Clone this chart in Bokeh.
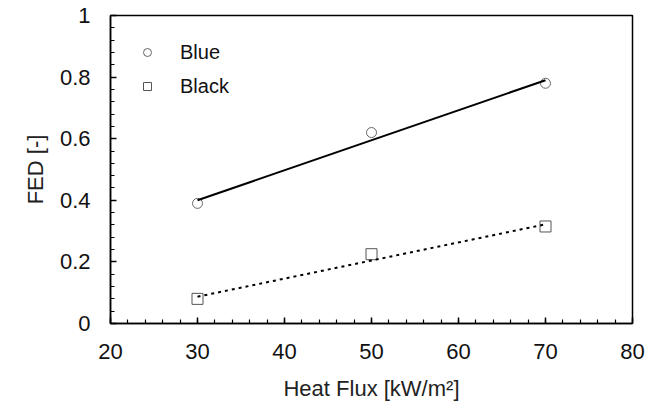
from bokeh.plotting import figure
from bokeh.embed import file_html
from bokeh.resources import INLINE
from bokeh.models import (ColumnDataSource, Legend, LegendItem, Range1d,
                          SingleIntervalTicker, CustomJSTickFormatter)

# ---- data ----
heat_flux = [30, 50, 70]
fed_blue = [0.39, 0.62, 0.78]
fed_black = [0.08, 0.225, 0.315]

trend_x = [30, 70]
trend_blue = [0.40, 0.79]
trend_black = [0.087, 0.322]

x_label = "Heat Flux [kW/m²]"
y_label = "FED [-]"
series_names = ["Blue", "Black"]

FONT = "Liberation Sans"

p = figure(frame_width=522, frame_height=308,
           min_border_left=110, min_border_right=32,
           min_border_top=15, min_border_bottom=79,
           x_range=Range1d(20, 80), y_range=Range1d(0, 1),
           output_backend="svg", toolbar_location=None, title=None)

p.xgrid.visible = False
p.ygrid.visible = False
p.outline_line_color = "#000000"
p.outline_line_width = 1.5
p.background_fill_color = "white"
p.border_fill_color = "white"

src_blue = ColumnDataSource(dict(x=heat_flux, y=fed_blue))
src_black = ColumnDataSource(dict(x=heat_flux, y=fed_black))

r_blue = p.scatter("x", "y", source=src_blue, marker="circle", size=10,
                   fill_color=None, line_color="#666666", line_width=1)
r_black = p.scatter("x", "y", source=src_black, marker="square", size=11,
                    fill_color=None, line_color="#555555", line_width=1)

p.line(trend_x, trend_blue, line_color="#000000", line_width=2)
p.line(trend_x, trend_black, line_color="#000000", line_width=2,
       line_dash="3 4")

# axes
for ax in (p.xaxis[0], p.yaxis[0]):
    ax.axis_line_color = "#000000"
    ax.axis_line_width = 1.5
    ax.major_tick_line_color = "#000000"
    ax.minor_tick_line_color = "#000000"
    ax.major_tick_line_width = 1.5
    ax.minor_tick_line_width = 1.2
    ax.major_tick_in = 6
    ax.major_tick_out = 0
    ax.minor_tick_in = 4
    ax.minor_tick_out = 0
    ax.major_label_text_font = FONT
    ax.major_label_text_font_size = "22px"
    ax.major_label_text_color = "#111111"
    ax.axis_label_text_font = FONT
    ax.axis_label_text_font_size = "22px"
    ax.axis_label_text_font_style = "normal"
    ax.axis_label_text_color = "#222222"
    ax.major_label_standoff = 20

p.xaxis[0].ticker = SingleIntervalTicker(interval=10, num_minor_ticks=5)
p.yaxis[0].ticker = SingleIntervalTicker(interval=0.2, num_minor_ticks=5)
p.yaxis[0].formatter = CustomJSTickFormatter(
    code="return Number(tick.toFixed(2)).toString();")
p.xaxis[0].axis_label = x_label
p.yaxis[0].axis_label = y_label
p.xaxis[0].axis_label_standoff = 14
p.yaxis[0].axis_label_standoff = 9

legend = Legend(items=[LegendItem(label=series_names[0], renderers=[r_blue]),
                       LegendItem(label=series_names[1], renderers=[r_black])],
                location=(27, 225), margin=0, padding=0,
                glyph_width=20, glyph_height=24, label_height=24,
                spacing=10, label_standoff=23,
                label_text_font=FONT, label_text_font_size="20px",
                label_text_color="#111111",
                border_line_color=None, background_fill_alpha=0)
p.add_layout(legend, "center")

open("out.html", "w").write(file_html(p, INLINE))
